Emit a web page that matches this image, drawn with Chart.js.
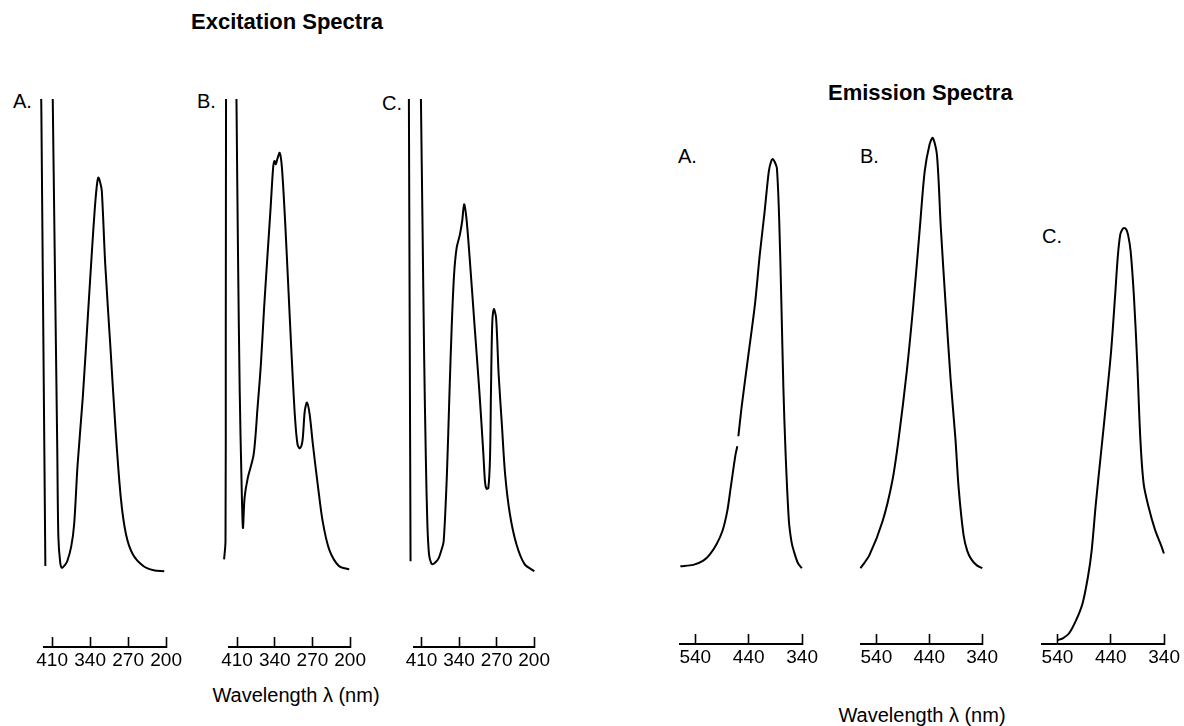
<!DOCTYPE html>
<html lang="en">
<head>
<meta charset="UTF-8">
<title>Excitation and Emission Spectra</title>
<script src="https://cdn.jsdelivr.net/npm/chart.js"></script>
<style>
  body { margin: 0; background: #fff; }
  #fig {
    position: relative;
    width: 1184px;
    height: 726px;
    overflow: hidden;
    background: #fff;
    color: #000;
    font-family: "Liberation Sans", Arial, Helvetica, sans-serif;
  }
  #fig canvas { position: absolute; }
  .txt { position: absolute; line-height: 1; white-space: nowrap; }
  .title { font-weight: bold; font-size: 22px; }
  .panel { font-size: 20px; }
  .xlabel { font-size: 20px; transform: translateX(-50%); }
</style>
</head>
<body>
<div id="fig">
  <div class="txt title" style="left:191px; top:11px;">Excitation Spectra</div>
  <div class="txt title" style="left:828px; top:82px;">Emission Spectra</div>

  <div class="txt panel" style="left:13px; top:91px;">A.</div>
  <div class="txt panel" style="left:197px; top:91px;">B.</div>
  <div class="txt panel" style="left:382px; top:93px;">C.</div>
  <div class="txt panel" style="left:678px; top:146px;">A.</div>
  <div class="txt panel" style="left:860px; top:146px;">B.</div>
  <div class="txt panel" style="left:1042px; top:226px;">C.</div>

  <div class="txt xlabel" style="left:296px; top:685px;">Wavelength λ (nm)</div>
  <div class="txt xlabel" style="left:922px; top:705px;">Wavelength λ (nm)</div>
</div>

<script>
    // tick values of the two kinds of wavelength axis
    const exTicks = [410, 340, 270, 200];
    const emTicks = [540, 440, 340];

    // excitation spectra (wavelength nm, relative intensity); >100 is off scale (scatter peak)
    const exA_nm  = [422.5, 426.2, 429.9, 431.9, 411.7, 408.9, 405.4, 400.6, 398.5, 395.0,
                     391.8, 386.5, 382.2, 375.0, 369.5, 363.1, 353.6, 344.0, 336.3, 331.3,
                     327.5, 324.9, 321.5, 318.5, 312.2, 302.6, 293.0, 283.5, 273.9, 261.2,
                     242.1, 223.0, 203.5];
    const exA_int = [2.0, 50, 98, 125, 125, 100, 68.8, 26.8, 8.0, 2.6,
                     1.6, 2.2, 3.0, 6.0, 10.7, 23.3, 37.3, 54.8, 68.8, 77.2,
                     82.0, 83.5, 82.5, 80.7, 65.3, 47.8, 30.3, 16.3, 8.6, 4.4,
                     2.0, 1.1, 0.9];

    const exB_nm  = [434.1, 431.5, 431.0, 430.5, 430.3, 413.3, 411.1, 408.2, 405.1, 402.0,
                     399.1, 396.1, 390.1, 379.2, 372.0, 365.8, 359.8, 353.8, 347.7, 343.0,
                     340.4, 338.1, 334.5, 330.8, 326.7, 320.5, 314.5, 308.5, 302.4, 297.7,
                     293.4, 288.6, 284.3, 280.1, 275.2, 269.2, 260.2, 251.1, 239.0, 220.9,
                     201.7];
    const exB_int = [3.4, 7.2, 50, 100, 125, 125, 99.6, 66.7, 38.7, 21.2,
                     10.0, 16.3, 20.5, 25.4, 35.2, 44.3, 56.2, 66.7, 77.2, 85.6,
                     87.0, 86.3, 87.7, 88.7, 85.6, 73.7, 59.7, 45.7, 33.1, 27.5,
                     26.7, 28.2, 34.5, 36.3, 33.8, 27.5, 19.1, 11.4, 5.5, 2.0,
                     1.3];

    const exC_nm  = [430.5, 432.0, 433.6, 434.4, 413.9, 411.1, 408.2, 405.1, 402.0, 399.1,
                     396.0, 392.0, 388.7, 383.0, 377.8, 372.5, 368.7, 362.7, 357.8, 353.6,
                     349.3, 344.5, 338.4, 334.2, 330.6, 326.4, 320.3, 311.3, 302.2, 295.0,
                     291.5, 288.8, 285.4, 282.3, 280.5, 278.2, 275.2, 271.0, 266.2, 260.2,
                     254.1, 245.1, 232.9, 217.9, 199.7];
    const exC_int = [3.0, 50, 100, 125, 125, 99.5, 73.7, 45.7, 24.7, 10.7,
                     4.4, 2.6, 2.4, 2.9, 3.7, 5.5, 7.2, 21.2, 38.7, 52.7,
                     63.2, 68.8, 71.6, 74.4, 77.9, 75.1, 66.7, 52.7, 38.7, 26.1,
                     19.5, 18.2, 18.4, 24.7, 38.7, 52.7, 55.9, 54.1, 42.2, 31.7,
                     21.2, 12.8, 6.5, 2.4, 0.9];

    // emission spectra (null = small break in the trace of A)
    const emA_nm  = [568.0, 543.8, 525.0, 513.4, 500.0, 489.2, 480.0, 473.9, 464.8, 461.3,
                     460.3, 459.4, 452.8, 440.6, 428.4, 419.3, 410.2, 402.4, 398.0, 395.1,
                     391.5, 387.3, 382.9, 378.8, 375.1, 370.9, 364.8, 360.0, 355.6, 348.0,
                     340.6];
    const emA_int = [1.3, 1.6, 2.5, 3.7, 6.0, 8.7, 13.0, 17.7, 24.7, 26.5,
                     null, 28.6, 35.2, 45.7, 56.2, 66.7, 75.8, 84.2, 86.3, 86.8,
                     86.2, 84.9, 73.8, 56.2, 38.7, 24.7, 10.8, 6.5, 4.5, 2.0,
                     0.9];

    const emB_nm  = [570.0, 552.9, 528.4, 510.0, 497.7, 482.5, 470.1, 457.8, 448.6,
                     439.4, 433.4, 425.5, 418.1, 409.0, 399.8, 390.6, 384.4, 375.2, 368.0,
                     360.0, 350.0, 339.7];
    const emB_int = [0.9, 3.7, 10.7, 19.1, 28.2, 42.2, 56.2, 72.3, 84.2,
                     89.8, 91.2, 87.7, 72.3, 56.2, 40.8, 28.2, 17.7, 7.9, 4.5,
                     2.7, 1.5, 0.9];

    const emC_nm  = [540.0, 530.0, 518.5, 505.0, 493.0, 483.0, 476.0, 468.0, 458.0, 448.0,
                     439.4, 432.0, 427.0, 422.3, 418.5, 415.0, 411.0, 407.7, 402.9, 396.7,
                     390.6, 384.6, 378.4, 369.3, 357.2, 345.0, 340.5];
    const emC_int = [-14.2, -13.8, -12.8, -10.0, -6.5, -1.0, 4.5, 14.5, 25.5, 36.5,
                     46.5, 58.0, 66.2, 70.9, 72.0, 72.3, 72.0, 70.9, 67.5, 58.0,
                     44.4, 28.0, 18.6, 13.8, 9.0, 5.5, 4.0];

    // layout of the six small plots (chart area edges in page pixels)
    const PLOT_H = 548;
    const AXIS_H = 40;
    const PAD = 24;
    const panels = [
        { nm: exA_nm, val: exA_int, ticks: exTicks, min: 200, max: 425, left: 44,    right: 170,    top: 99 },
        { nm: exB_nm, val: exB_int, ticks: exTicks, min: 200, max: 425, left: 229,   right: 353.5,  top: 99 },
        { nm: exC_nm, val: exC_int, ticks: exTicks, min: 200, max: 425, left: 413.5, right: 537.5,  top: 99 },
        { nm: emA_nm, val: emA_int, ticks: emTicks, min: 340, max: 569, left: 679.8, right: 805.3,  top: 96 },
        { nm: emB_nm, val: emB_int, ticks: emTicks, min: 340, max: 569, left: 861,   right: 986,    top: 96 },
        { nm: emC_nm, val: emC_int, ticks: emTicks, min: 340, max: 569, left: 1042,  right: 1167.7, top: 96 }
    ];

    Chart.defaults.font.family = "'Liberation Sans', Arial, Helvetica, sans-serif";
    Chart.defaults.color = '#000';

    const fig = document.getElementById('fig');

    panels.forEach(p => {
        const cv = document.createElement('canvas');
        const cLeft = Math.floor(p.left - PAD);
        const cWidth = Math.ceil(p.right + PAD) - cLeft;
        const cHeight = PLOT_H + AXIS_H;
        cv.width = cWidth;
        cv.height = cHeight;
        cv.style.left = cLeft + 'px';
        cv.style.top = p.top + 'px';
        cv.style.width = cWidth + 'px';
        cv.style.height = cHeight + 'px';
        fig.appendChild(cv);

        const points = p.nm.map((x, i) => ({ x: x, y: p.val[i] }));

        new Chart(cv, {
            type: 'line',
            data: {
                datasets: [{
                    data: points,
                    borderColor: '#000',
                    borderWidth: 2,
                    pointRadius: 0,
                    tension: 0.3,
                    capBezierPoints: false,
                    fill: false,
                    spanGaps: false,
                    clip: { left: 30, right: 30, top: 0, bottom: 30 }
                }]
            },
            options: {
                responsive: false,
                animation: false,
                events: [],
                layout: { padding: { left: p.left - cLeft, right: cLeft + cWidth - p.right, top: 0, bottom: 0 } },
                plugins: {
                    legend: { display: false },
                    tooltip: { enabled: false }
                },
                scales: {
                    x: {
                        type: 'linear',
                        reverse: true,
                        min: p.min,
                        max: p.max,
                        afterBuildTicks: s => { s.ticks = p.ticks.map(v => ({ value: v })); },
                        afterFit: s => { s.height = AXIS_H; },
                        ticks: {
                            autoSkip: false,
                            maxRotation: 0,
                            padding: 12,
                            color: '#000',
                            font: { size: 19 }
                        },
                        grid: {
                            display: true,
                            drawOnChartArea: false,
                            drawTicks: true,
                            tickLength: -10,
                            tickColor: '#000',
                            tickWidth: 1.6
                        },
                        border: { display: true, color: '#000', width: 2 }
                    },
                    y: { display: false, min: -15, max: 100 }
                }
            }
        });
    });
</script>
</body>
</html>
